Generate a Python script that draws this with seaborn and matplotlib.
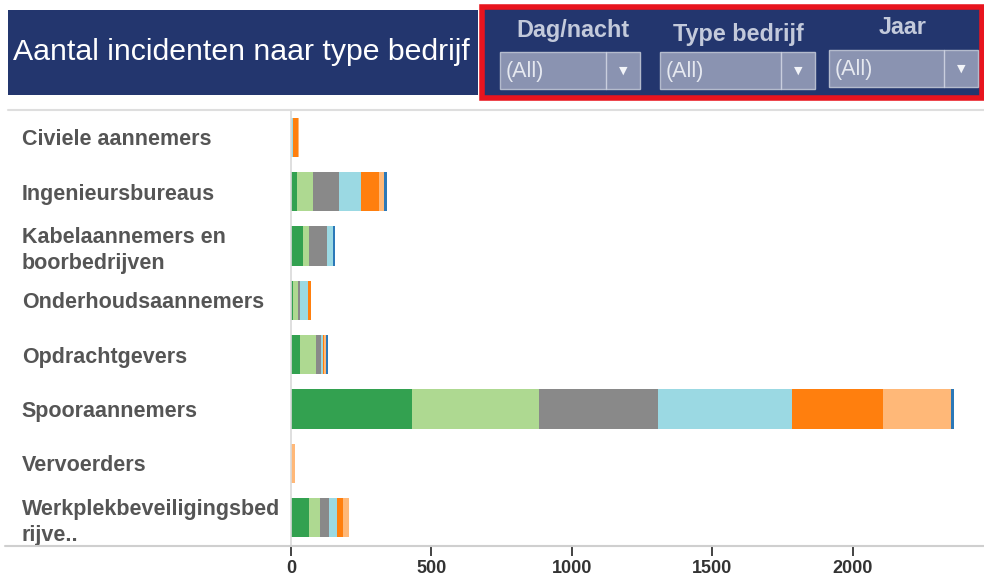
import numpy as np
import pandas as pd
import matplotlib
matplotlib.use("Agg")
import matplotlib.pyplot as plt
import seaborn as sns
from matplotlib.patches import Rectangle
from matplotlib.lines import Line2D

categories = ["Civiele aannemers", "Ingenieursbureaus", "Kabelaannemers en\nboorbedrijven",
              "Onderhoudsaannemers", "Opdrachtgevers", "Spooraannemers", "Vervoerders",
              "Werkplekbeveiligingsbed\nrijve.."]
series_names = ["S1", "S2", "S3", "S4", "S5", "S6", "S7"]
s1 = [0, 20, 43, 7, 31, 430, 0, 63]
s2 = [0, 57, 21, 19, 57, 452, 0, 41]
s3 = [0, 93, 65, 5, 19, 423, 0, 30]
s4 = [7, 78, 19, 28, 6, 479, 0, 28]
s5 = [17, 64, 0, 12, 5, 322, 0, 23]
s6 = [5, 20, 0, 0, 5, 242, 14, 20]
s7 = [0, 8, 8, 0, 8, 10, 0, 0]
colors = ["#33a150", "#aed991", "#898989", "#9bd9e3", "#ff7f0e", "#ffb878", "#2b78b8"]
xticks = [0, 500, 1000, 1500, 2000]

sns.set_theme(style="white")
plt.rcParams["font.family"] = ["Liberation Sans", "DejaVu Sans"]

W, H = 984, 580
fig = plt.figure(figsize=(W / 100, H / 100), dpi=100)

def fx(px):
    return px / W

def fy(py):
    return 1 - py / H

ax = fig.add_axes([fx(291), fy(545), fx(980) - fx(291), fy(110) - fy(545)])

values = np.array([s1, s2, s3, s4, s5, s6, s7], dtype=float)
cum = np.cumsum(values, axis=0)
for i in range(len(series_names) - 1, -1, -1):
    df = pd.DataFrame({"cat": categories, "val": cum[i]})
    sns.barplot(data=df, x="val", y="cat", order=categories, color=colors[i],
                saturation=1, width=0.72, linewidth=0, ax=ax, orient="h")

ax.set_xlim(0, 2452)
ax.set_ylim(len(categories) - 0.5, -0.5)
ax.set_xlabel("")
ax.set_ylabel("")
for sp in ["top", "right", "bottom"]:
    ax.spines[sp].set_visible(False)
ax.spines["left"].set_color("#d9d9d9")
ax.spines["left"].set_linewidth(1.2)

ax.set_xticks(xticks)
ax.set_xticklabels([str(t) for t in xticks], fontweight="bold", fontsize=13, color="#333333")
ax.tick_params(axis="x", bottom=True, length=8, width=1.2, color="#222222", pad=3,
               direction="out")
ax.tick_params(axis="y", left=False, pad=(291 - 30) * 0.72)
for lab in ax.get_yticklabels():
    lab.set_horizontalalignment("left")
    lab.set_fontweight("bold")
    lab.set_fontsize(15.5)
    lab.set_color("#555555")
    lab.set_linespacing(1.3)

# bottom axis line across full width
fig.add_artist(Line2D([fx(5), 1], [fy(546), fy(546)], color="#cfcfcf", lw=1.5))
# header separator
fig.add_artist(Line2D([fx(8), 1], [fy(110), fy(110)], color="#dedede", lw=1.5))

navy = "#23366e"
# title band
fig.add_artist(Rectangle((fx(8), fy(95)), fx(478) - fx(8), fy(10) - fy(95), facecolor=navy,
                         edgecolor="none"))
fig.text(fx(13), fy(52), "Aantal incidenten naar type bedrijf", color="white", fontsize=21.8,
         va="center", ha="left")
# filter panel with red border
fig.add_artist(Rectangle((fx(482), fy(98)), fx(982) - fx(482), fy(7) - fy(98), facecolor=navy,
                         edgecolor="#e8141e", linewidth=4))
filters = [("Dag/nacht", 500, 640, 52, 89, 573, 31), ("Type bedrijf", 660, 815, 52, 89, 738, 34),
           ("Jaar", 829, 978, 50, 87, 903, 27)]
for name, x0, x1, y0, y1, lx, ly in filters:
    fig.text(fx(lx), fy(ly), name, color="#c3cadb", fontsize=16.8,
             fontweight="bold", ha="center", va="center")
    fig.add_artist(Rectangle((fx(x0), fy(y1)), fx(x1) - fx(x0), fy(y0) - fy(y1),
                             facecolor="#8a93b1", edgecolor="#b4bbcd", linewidth=1))
    fig.add_artist(Line2D([fx(x1 - 34), fx(x1 - 34)], [fy(y1), fy(y0)], color="#c9cede", lw=1))
    fig.text(fx(x0 + 6), fy((y0 + y1) / 2 + 1), "(All)", color="#e6e9f0", fontsize=15.5,
             ha="left", va="center")
    fig.text(fx(x1 - 17), fy((y0 + y1) / 2), "\u25bc", color="#f2f4f8", fontsize=8,
             ha="center", va="center", family="DejaVu Sans")

fig.savefig("out.png", dpi=100, facecolor="white")
